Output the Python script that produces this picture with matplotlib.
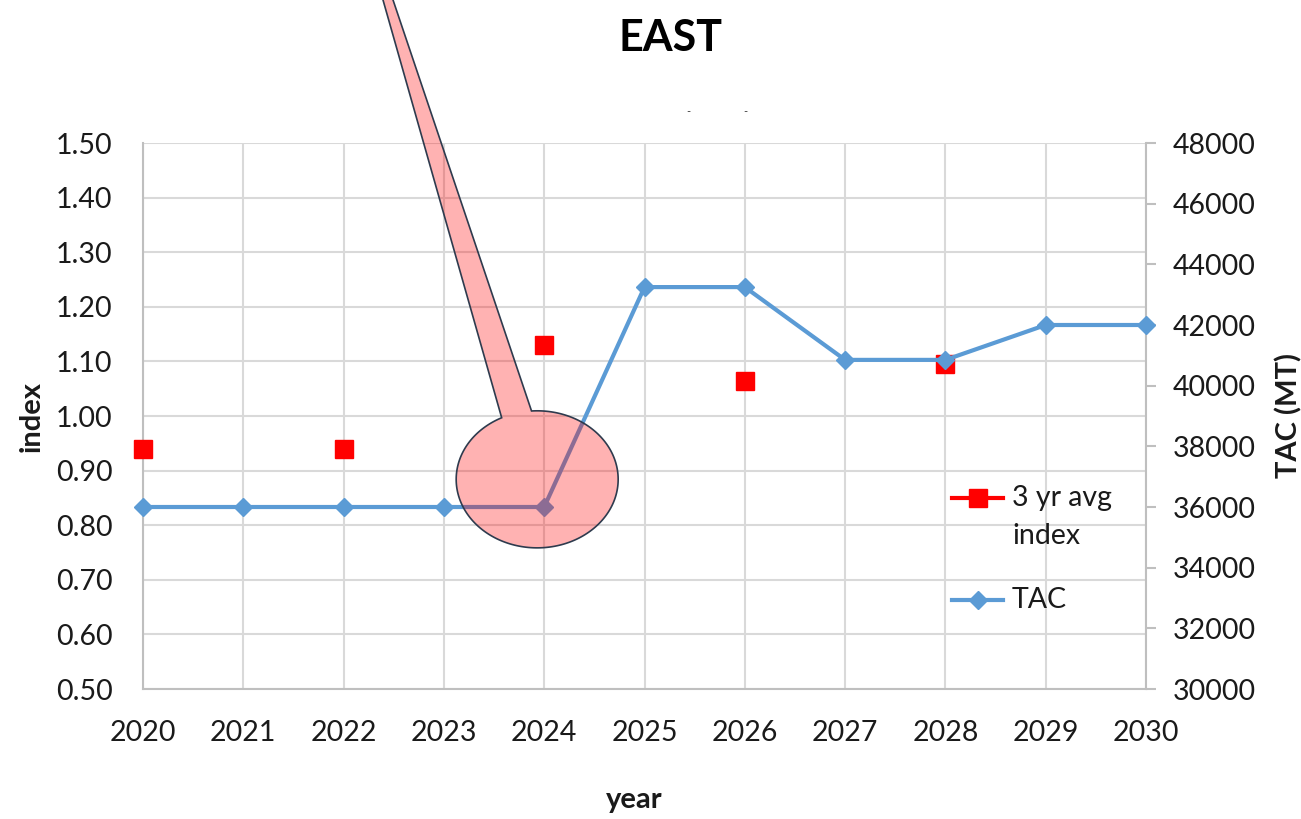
import numpy as np
import matplotlib
matplotlib.use('Agg')
import matplotlib.pyplot as plt
from matplotlib.lines import Line2D
from matplotlib.patches import Polygon

plt.rcParams['font.family'] = ['Lato', 'DejaVu Sans']

# data
years = [2020, 2021, 2022, 2023, 2024, 2025, 2026, 2027, 2028, 2029, 2030]
index_years = [2020, 2022, 2024, 2026, 2028]
index_vals = [0.94, 0.94, 1.13, 1.065, 1.095]
tac_vals = [36000, 36000, 36000, 36000, 36000, 43250, 43250, 40850, 40850, 42000, 42000]

red = '#FF0000'
blue = '#5B9BD5'
grid_c = '#D9D9D9'
axis_c = '#BFBFBF'
txt_c = '#1A1A1A'

W, H = 1301, 819
fig = plt.figure(figsize=(W / 100, H / 100), dpi=100)
ax1 = fig.add_axes([143 / W, 1 - 689 / H, (1146 - 143) / W, (689 - 143) / H])
ax2 = ax1.twinx()

# index markers
ax1.plot(index_years, index_vals, linestyle='none', marker='s', markersize=13,
         color=red, clip_on=False, zorder=3)
ax1.set_xlim(2020, 2030)
ax1.set_ylim(0.5, 1.5)
ax1.set_xticks(years)
ax1.set_yticks(np.arange(0.5, 1.501, 0.1))
ax1.set_yticklabels(['%.2f' % v for v in np.arange(0.5, 1.501, 0.1)])
ax1.grid(True, color=grid_c, linewidth=1.5)
ax1.set_axisbelow(True)

# TAC line on secondary axis
ax2.plot(years, tac_vals, color=blue, linewidth=3, marker='D', markersize=9,
         clip_on=False, zorder=3)
ax2.set_ylim(30000, 48000)
ax2.set_yticks(range(30000, 48001, 2000))

for a in (ax1, ax2):
    for s in a.spines.values():
        s.set_visible(False)
for s in (ax1.spines['left'], ax1.spines['bottom'], ax2.spines['right']):
    s.set_visible(True)
    s.set_color(axis_c)
    s.set_linewidth(1.5)

ax1.tick_params(axis='y', length=0, pad=22, labelsize=20.5, labelcolor=txt_c)
ax1.tick_params(axis='x', length=0, pad=22, labelsize=20.5, labelcolor=txt_c)
ax2.tick_params(axis='y', length=7, width=1.5, color=axis_c, direction='out',
                pad=12, labelsize=20.5, labelcolor=txt_c)

# callout: ellipse with a tail running off the top
cx, cy, ea, eb = 2023.93, 0.884, 0.8075, 0.1255
th = np.radians(np.linspace(94, 116 - 360, 200))
ell = np.column_stack([cx + ea * np.cos(th), cy + eb * np.sin(th)])
tail = np.array([[2022.334, 1.80], [2022.423, 1.80]])
callout = Polygon(np.vstack([ell, tail]), closed=True, facecolor=(1, 0, 0, 0.3),
                  edgecolor='#2E3B4E', linewidth=1.2, transform=ax1.transData,
                  clip_on=False, zorder=5)
ax2.add_patch(callout)

# legend drawn by hand (Excel style: handle on first text line)
def legend_entry(y, color, marker, ms, lines):
    fig.add_artist(Line2D([952 / W, 1003 / W], [1 - y / H, 1 - y / H], color=color,
                          linewidth=3, transform=fig.transFigure))
    fig.add_artist(Line2D([978 / W], [1 - y / H], color=color, marker=marker,
                          markersize=ms, linestyle='none', transform=fig.transFigure))
    for i, t in enumerate(lines):
        fig.text(1012 / W, 1 - (y + 38 * i) / H, t, ha='left', va='center',
                 fontsize=20.5, color=txt_c)

legend_entry(498, red, 's', 13, ['3 yr avg', 'index'])
legend_entry(600, blue, 'D', 9, ['TAC'])

fig.text(671 / W, 1 - 38 / H, 'EAST', ha='center', va='center',
         fontsize=31, fontweight='bold', color='black')
fig.text(688 / W, 1 - 112 / H, '-', ha='center', va='center', fontsize=8, color='#333333')
fig.text(745 / W, 1 - 112 / H, '-', ha='center', va='center', fontsize=8, color='#333333')
fig.text(634 / W, 1 - 800 / H, 'year', ha='center', va='center',
         fontsize=21, fontweight='bold', color=txt_c)
fig.text(32 / W, 1 - 416 / H, 'index', ha='center', va='center', rotation=90,
         fontsize=21, fontweight='bold', color=txt_c)
fig.text(1289 / W, 1 - 416 / H, 'TAC (MT)', ha='center', va='center', rotation=90,
         fontsize=21, fontweight='bold', color=txt_c)

fig.savefig('out.png', dpi=100)
